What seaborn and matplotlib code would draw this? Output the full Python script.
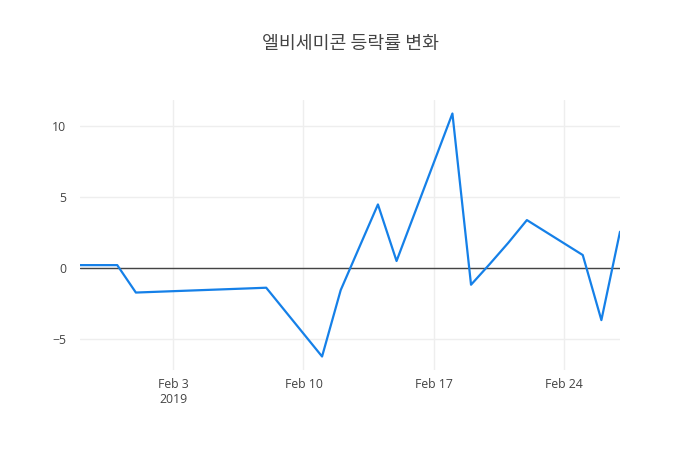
import matplotlib
matplotlib.use("Agg")
import matplotlib.pyplot as plt
import seaborn as sns
import pandas as pd

title = "엘비세미콘 등락률 변화"
dates = ["2019-01-29", "2019-01-30", "2019-01-31", "2019-02-01", "2019-02-07",
         "2019-02-08", "2019-02-11", "2019-02-12", "2019-02-13", "2019-02-14",
         "2019-02-15", "2019-02-18", "2019-02-19", "2019-02-20", "2019-02-21",
         "2019-02-22", "2019-02-25", "2019-02-26", "2019-02-27"]
values = [0.23, 0.23, 0.23, -1.70, -1.41, -1.36, -6.20, -1.53, 1.49, 4.50,
          0.52, 10.90, -1.15, 0.30, 1.80, 3.40, 0.94, -3.64, 2.58]
xtick_dates = ["2019-02-03", "2019-02-10", "2019-02-17", "2019-02-24"]
xtick_labels = ["Feb 3\n2019", "Feb 10", "Feb 17", "Feb 24"]
yticks = [-5, 0, 5, 10]

df = pd.DataFrame({"date": pd.to_datetime(dates), "value": values})

sns.set_style("white")
plt.rcParams['font.family'] = ['Open Sans', 'Noto Sans CJK KR', 'DejaVu Sans']

fig = plt.figure(figsize=(7, 4.5), dpi=100)
ax = fig.add_axes([80/700, 80/450, 540/700, 270/450])

ax.axhline(0, color="#444444", lw=1, zorder=2)
sns.lineplot(data=df, x="date", y="value", ax=ax, color="#1580e8", lw=1.6, zorder=3)

ax.set_xlim(df["date"].min(), df["date"].max())
ax.set_ylim(-7.15, 11.85)
ax.set_xticks(pd.to_datetime(xtick_dates))
ax.set_xticklabels(xtick_labels)
ax.set_yticks(yticks)
ax.set_yticklabels(["\u22125", "0", "5", "10"])
ax.grid(True, color="#eeeeee", lw=1, zorder=0)
for s in ax.spines.values():
    s.set_visible(False)
ax.tick_params(axis="both", length=0, labelsize=8.8, labelcolor="#444444")
ax.tick_params(axis="x", pad=6)
ax.tick_params(axis="y", pad=10)
ax.set_xlabel("")
ax.set_ylabel("")

fig.text(350/700, 1 - 44/450, title, ha="center", va="center", fontsize=13.2,
         color="#444444", family=['Noto Sans CJK KR', 'DejaVu Sans'])

fig.savefig("out.png", dpi=100)
